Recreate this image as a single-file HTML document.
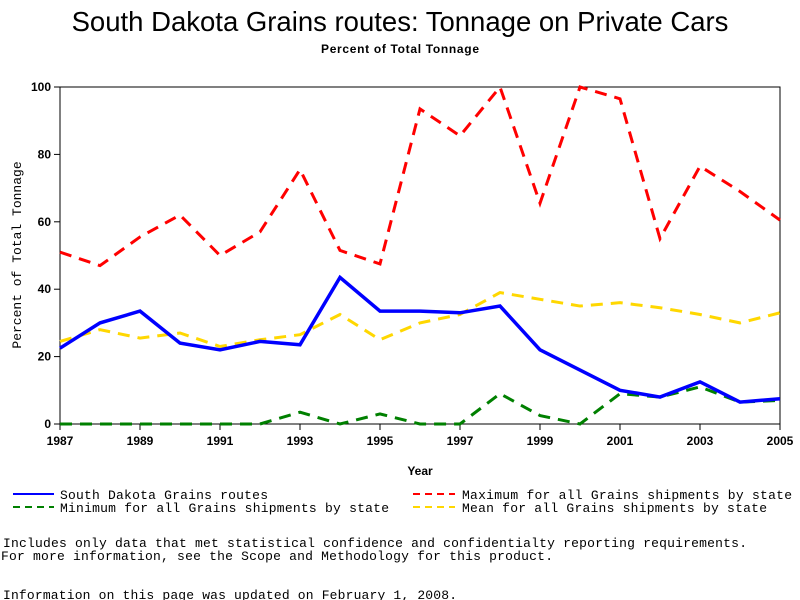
<!DOCTYPE html>
<html><head><meta charset="utf-8"><style>
body{margin:0;background:#fff;}
svg{display:block;}
text{font-family:"Liberation Sans",sans-serif;}
.mono{font-family:"Liberation Mono",monospace;font-size:13px;}
</style></head><body>
<svg id="chart" width="800" height="600">
<text x="400" y="31" text-anchor="middle" font-size="27.5">South Dakota Grains routes: Tonnage on Private Cars</text>
<text x="400" y="53" text-anchor="middle" font-size="12" font-weight="bold" textLength="158">Percent of Total Tonnage</text>
<rect x="60" y="87" width="720" height="337" fill="none" stroke="#000"/>
<g id="axes"></g>
<g id="series"></g>
<text x="420" y="475" text-anchor="middle" font-size="12" font-weight="bold">Year</text>
<text transform="translate(21,255) rotate(-90)" text-anchor="middle" font-size="12" class="mono">Percent of Total Tonnage</text>
<g>
<line x1="13" y1="494" x2="54" y2="494" stroke="#00f" stroke-width="2"/>
<text x="60" y="499" class="mono" textLength="208">South Dakota Grains routes</text>
<line x1="13" y1="507" x2="54" y2="507" stroke="#008000" stroke-width="2" stroke-dasharray="7,5"/>
<text x="60" y="512" class="mono" textLength="329">Minimum for all Grains shipments by state</text>
<line x1="413" y1="494" x2="455" y2="494" stroke="#f00" stroke-width="2" stroke-dasharray="7,5"/>
<text x="462" y="499" class="mono" textLength="330">Maximum for all Grains shipments by state</text>
<line x1="413" y1="507" x2="455" y2="507" stroke="#ffd700" stroke-width="2" stroke-dasharray="7,5"/>
<text x="462" y="512" class="mono" textLength="305">Mean for all Grains shipments by state</text>
</g>
<text x="3" y="547" class="mono" textLength="744">Includes only data that met statistical confidence and confidentialty reporting requirements.</text>
<text x="1" y="560" class="mono" textLength="552">For more information, see the Scope and Methodology for this product.</text>
<text x="3" y="599" class="mono" textLength="454">Information on this page was updated on February 1, 2008.</text>
</svg>
<script>
const years=[1987,1988,1989,1990,1991,1992,1993,1994,1995,1996,1997,1998,1999,2000,2001,2002,2003,2004,2005];
const sdValues=[22.5,30,33.5,24,22,24.5,23.5,43.5,33.5,33.5,33,35,22,16,10,8,12.5,6.5,7.5];
const maxValues=[51,47,55.5,62,50,57,75.5,51.5,47.5,93.5,85.5,100,65.5,100,96.5,55,76.5,69,60.5];
const meanValues=[24.5,28,25.5,27,23,25,26.5,32.5,25,30,32.5,39,37,35,36,34.5,32.5,30,33];
const minValues=[0,0,0,0,0,0,3.5,0,3,0,0,9,2.5,0,9,8,11,6.5,7];
const xTicks=[1987,1989,1991,1993,1995,1997,1999,2001,2003,2005];
const yTicks=[0,20,40,60,80,100];
const NS='http://www.w3.org/2000/svg';
function xs(y){return 60+(y-1987)*720/18;}
function ys(v){return 424-v*3.37;}
const axes=document.getElementById('axes');
xTicks.forEach(t=>{
  const l=document.createElementNS(NS,'line');
  l.setAttribute('x1',xs(t));l.setAttribute('x2',xs(t));l.setAttribute('y1',424);l.setAttribute('y2',430);l.setAttribute('stroke','#000');
  
  
  axes.appendChild(l);
  const tx=document.createElementNS(NS,'text');
  tx.setAttribute('x',xs(t));tx.setAttribute('y',445);tx.setAttribute('text-anchor','middle');tx.setAttribute('font-size','12');tx.setAttribute('font-weight','bold');
  tx.textContent=t;
  
  
  axes.appendChild(tx);
});
yTicks.forEach(t=>{
  const l=document.createElementNS(NS,'line');
  l.setAttribute('x1',54);l.setAttribute('x2',60);l.setAttribute('y1',ys(t));l.setAttribute('y2',ys(t));l.setAttribute('stroke','#000');
  
  
  axes.appendChild(l);
  const tx=document.createElementNS(NS,'text');
  tx.setAttribute('x',51);tx.setAttribute('y',ys(t)+4);tx.setAttribute('text-anchor','end');tx.setAttribute('font-size','12');tx.setAttribute('font-weight','bold');
  tx.textContent=t;
  
  
  axes.appendChild(tx);
});
const g=document.getElementById('series');
function draw(vals,color,dash,w,name){
  const p=document.createElementNS(NS,'polyline');
  p.setAttribute('points',vals.map((v,i)=>xs(years[i])+','+ys(v)).join(' '));
  p.setAttribute('fill','none');p.setAttribute('stroke',color);p.setAttribute('stroke-width',w);
  if(dash)p.setAttribute('stroke-dasharray',dash);
  
  
  g.appendChild(p);
}
draw(minValues,'#008000','12,8',3,'min-line');
draw(meanValues,'#ffd700','12,8',3,'mean-line');
draw(maxValues,'#f00','12,8',3,'max-line');
draw(sdValues,'#00f',null,3.5,'sd-line');
</script>
</body></html>
